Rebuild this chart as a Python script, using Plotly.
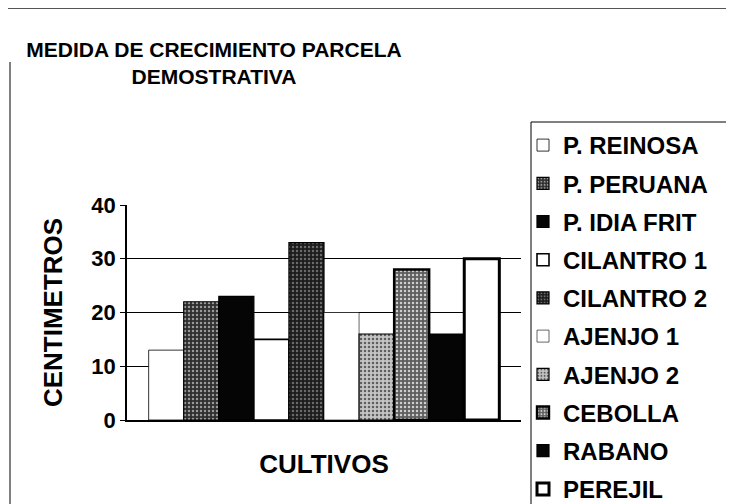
import plotly.graph_objects as go

cultivos = ["P. REINOSA", "P. PERUANA", "P. IDIA FRIT", "CILANTRO 1", "CILANTRO 2",
            "AJENJO 1", "AJENJO 2", "CEBOLLA", "RABANO", "PEREJIL"]
alturas = [13, 22, 23, 15, 33, 20, 16, 28, 16, 30]
categoria = [""]
y_ticks = [0, 10, 20, 30, 40]

# style per series: (bgcolor, fgcolor, pattern shape, outline width)
estilos = [
    ("#ffffff", "#ffffff", "", 0.8),
    ("#2e2e2e", "#9a9a9a", ".", 1.2),
    ("#050505", "#050505", "", 1.2),
    ("#ffffff", "#ffffff", "", 1.6),
    ("#1c1c1c", "#6a6a6a", ".", 1.2),
    ("#ffffff", "#ffffff", "", 0.6),
    ("#c4c4c4", "#5e5e5e", ".", 1.2),
    ("#5e5e5e", "#cfcfcf", ".", 2.4),
    ("#050505", "#050505", "", 1.2),
    ("#ffffff", "#ffffff", "", 3.0),
]

FONT = "Liberation Sans, Arial, sans-serif"

# page is drawn with an 8px body offset; work in figure pixels
W, H = 734, 504
L, R_EDGE = 119, 513          # plot area left/right (figure px)
TOP, BOTTOM = 197, 412        # plot area top/bottom (figure px)
MT = 92                       # top margin (figure px)
PH = H - MT                   # paper height (bottom margin 0)
PW = R_EDGE - L
LEG_BORDER_X, LEG_TOP = 523, 114


def px_x(fx):
    return (fx - L) / PW


def px_y(fy):
    return (H - fy) / PH


fig = go.Figure()
for i, (nombre, valor) in enumerate(zip(cultivos, alturas)):
    bg, fg, shape, lw = estilos[i]
    marker = dict(color=bg, line=dict(color="#000000", width=lw))
    if shape:
        marker["pattern"] = dict(shape=shape, bgcolor=bg, fgcolor=fg, size=4, solidity=0.3,
                                 fillmode="replace")
    fig.add_trace(go.Bar(x=categoria, y=[valor], name=nombre, marker=marker,
                         legendgroup=nombre))

fig.update_layout(
    width=W, height=H,
    paper_bgcolor="#ffffff", plot_bgcolor="#ffffff",
    margin=dict(l=L, r=W - R_EDGE, t=MT, b=0, autoexpand=False),
    barmode="group", bargap=0.11, bargroupgap=0,
    font=dict(family=FONT, color="#000000", size=20),
    title=dict(text="<b>MEDIDA DE CRECIMIENTO PARCELA<br>DEMOSTRATIVA</b>",
               x=206 / W, xanchor="center", xref="container",
               y=1 - 49 / H, yanchor="middle", yref="container",
               font=dict(family=FONT, size=21, color="#000000")),
    legend=dict(x=px_x(LEG_BORDER_X - 8), xanchor="left", y=px_y(LEG_TOP + 1), yanchor="top",
                borderwidth=0, bgcolor="rgba(0,0,0,0)",
                font=dict(family=FONT, size=24, color="#000000", weight="bold"),
                tracegroupgap=4, itemclick=False),
    showlegend=True,
)

fig.update_xaxes(showticklabels=False, showgrid=False, showline=True, linecolor="#000000",
                 linewidth=1.5, ticks="", zeroline=False,
                 title=dict(text="<b>CULTIVOS</b>", standoff=34,
                            font=dict(family=FONT, size=26, color="#000000")))
fig.update_yaxes(range=[0, 40], tickvals=y_ticks, ticktext=[f"<b>{v}</b>" for v in y_ticks],
                 domain=[px_y(BOTTOM), px_y(TOP)],
                 showgrid=True, gridcolor="#000000", gridwidth=1,
                 showline=True, linecolor="#000000", linewidth=1.5,
                 ticks="outside", ticklen=5, tickcolor="#000000", zeroline=False,
                 tickfont=dict(family=FONT, size=22, color="#000000"),
                 title=dict(text="<b>CENTIMETROS</b>", standoff=21,
                            font=dict(family=FONT, size=26, color="#000000")))

# scanned outer chart border (left and top)
fig.add_shape(type="line", xref="paper", yref="paper", x0=px_x(2), x1=px_x(2),
              y0=px_y(H), y1=px_y(54), line=dict(color="#000000", width=1))
fig.add_shape(type="line", xref="paper", yref="paper", x0=px_x(0), x1=px_x(W),
              y0=px_y(0.5), y1=px_y(0.5), line=dict(color="#555555", width=1))
# legend box edges (left and top; right and bottom fall outside the picture)
fig.add_shape(type="line", xref="paper", yref="paper",
              x0=px_x(LEG_BORDER_X), x1=px_x(LEG_BORDER_X),
              y0=px_y(H), y1=px_y(LEG_TOP), line=dict(color="#000000", width=1))
fig.add_shape(type="line", xref="paper", yref="paper",
              x0=px_x(LEG_BORDER_X), x1=px_x(W),
              y0=px_y(LEG_TOP), y1=px_y(LEG_TOP), line=dict(color="#000000", width=1))

fig.write_html("out.html")
